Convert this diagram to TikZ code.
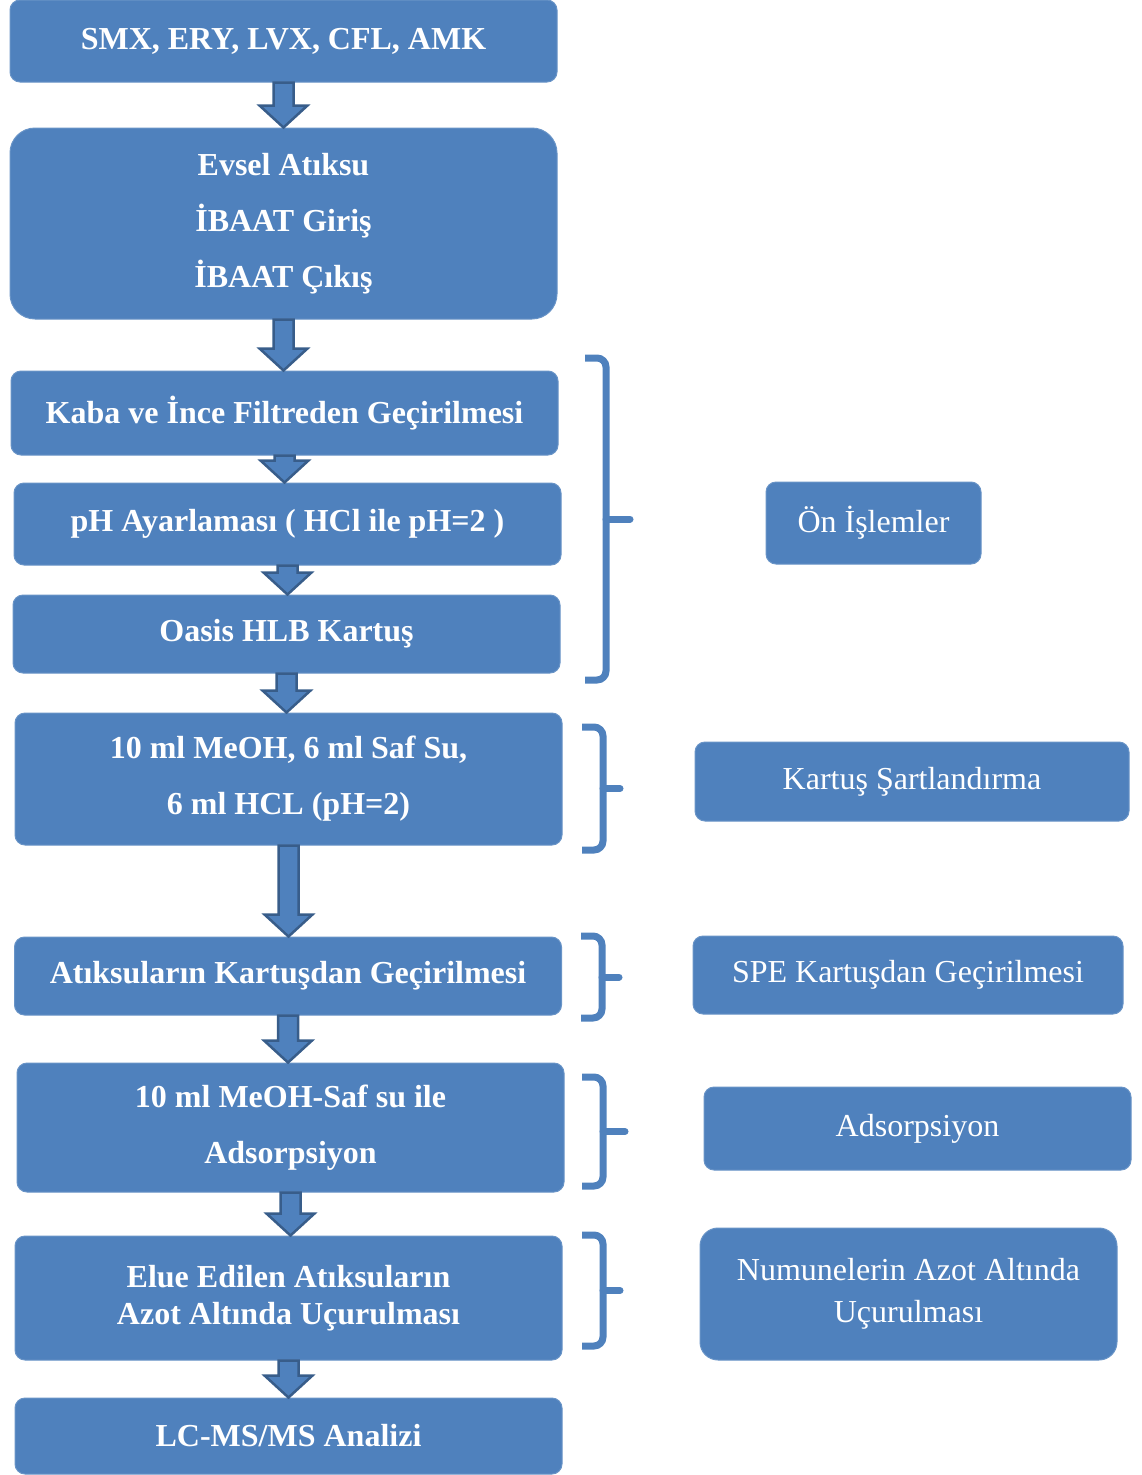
\documentclass[tikz,border=0pt]{standalone}
\usepackage{fontspec}
\setmainfont{Liberation Serif}
\usetikzlibrary{positioning,calc}
\definecolor{boxblue}{HTML}{4F81BD}
\definecolor{arrowedge}{HTML}{385D8A}

\begin{document}
\begin{tikzpicture}[
  x=1pt, y=-1pt,
  every node/.style={font=\fontsize{32}{39}\selectfont},
  box/.style ={fill=boxblue, draw=boxblue!85!white, line width=1pt,
               rounded corners=10pt, text=white, align=center,
               font=\fontsize{32}{39}\selectfont\bfseries,
               minimum width=547pt, inner sep=0pt},
  sbox/.style={box, font=\fontsize{32}{39}\selectfont},
  blk/.style ={fill=boxblue, draw=arrowedge, line width=2.5pt, line join=miter},
  brc/.style ={draw=boxblue, line width=7pt, rounded corners=9pt}
]
\useasboundingbox (0,0) rectangle (1142,1475);

%% main steps
\node[box, minimum height=82pt]  (smx)  at (283.5,41)   {SMX, ERY, LVX, CFL, AMK};
\node[box, minimum height=191pt, rounded corners=25pt]
                                 (evs)  at (283.5,223.5) {Evsel Atıksu\\[17pt]İBAAT Giriş\\[17pt]İBAAT Çıkış};
\node[box, minimum height=84pt]  (kaba) at (284.5,413)  {Kaba ve İnce Filtreden Geçirilmesi};
\node[box, minimum height=82pt]  (ph)   at (287.5,524)  {pH Ayarlaması ( HCl ile pH=2 )};
\node[box, minimum height=78pt]  (oas)  at (286.5,634)  {Oasis HLB Kartuş};
\node[box, minimum height=132pt] (meoh) at (288.5,779)  {10 ml MeOH, 6 ml Saf Su,\\[17pt]6 ml HCL (pH=2)};
\node[box, minimum height=78pt]  (atk)  at (288,976)    {Atıksuların Kartuşdan Geçirilmesi};
\node[box, minimum height=129pt] (ads)  at (290.5,1127.5) {10 ml MeOH-Saf su ile\\[17pt]Adsorpsiyon};
\node[box, minimum height=124pt] (elue) at (288.5,1298) {Elue Edilen Atıksuların\\[-2pt]Azot Altında Uçurulması};
\node[box, minimum height=76pt]  (lcms) at (288.5,1436) {LC-MS/MS Analizi};

%% block arrows
\foreach \a/\b in {smx/evs,evs/kaba,kaba/ph,ph/oas,oas/meoh,meoh/atk,atk/ads,ads/elue,elue/lcms}
  \draw[blk] let \p1=(\a.south), \p2=(\b.north) in
    (\x1-10pt,\y1) -- (\x1+10pt,\y1) -- (\x1+10pt,\y2+22pt) -- (\x1+24pt,\y2+22pt)
    -- (\x1,\y2) -- (\x1-24pt,\y2+22pt) -- (\x1-10pt,\y2+22pt) -- cycle;

%% braces
\foreach \xb/\top/\bot/\tip in {606/358/680/630, 603/727/850/620, 602/936/1018/619,
                                603/1077/1186/625, 603/1235/1346/620}{
  \draw[brc] (\xb-21,\top) -- (\xb,\top) -- (\xb,\bot) -- (\xb-21,\bot);
  \draw[draw=boxblue, line width=7pt, line cap=round] (\xb,{(\top+\bot)/2}) -- (\tip,{(\top+\bot)/2});
}

%% side labels
\node[sbox, minimum width=215pt, minimum height=82pt]  (onis) at (873.5,523)  {Ön İşlemler};
\node[sbox, minimum width=434pt, minimum height=79pt]  (kart) at (912,781.5)  {Kartuş Şartlandırma};
\node[sbox, minimum width=430pt, minimum height=78pt]  (spe)  at (908,975)    {SPE Kartuşdan Geçirilmesi};
\node[sbox, minimum width=427pt, minimum height=83pt]  (adsr) at (917.5,1128.5) {Adsorpsiyon};
\node[sbox, minimum width=417pt, minimum height=132pt, rounded corners=18pt]
                                                       (numu) at (908.5,1294) {Numunelerin Azot Altında\\[3pt]Uçurulması};
\end{tikzpicture}
\end{document}
